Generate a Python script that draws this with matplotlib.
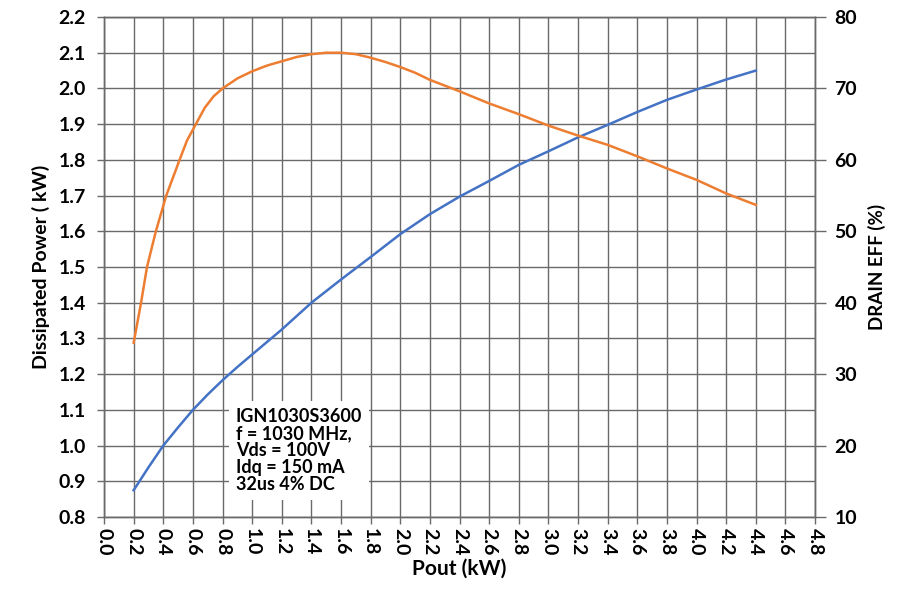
import numpy as np
import matplotlib
matplotlib.use('Agg')
import matplotlib.pyplot as plt
from matplotlib.ticker import MultipleLocator

plt.rcParams['font.family'] = ['Lato', 'DejaVu Sans']
plt.rcParams['font.weight'] = 'bold'

# dissipated power (kW) vs Pout (kW)
pout_pd = [0.2, 0.3, 0.4, 0.5, 0.6, 0.7, 0.8, 0.9, 1.0, 1.2, 1.4, 1.6, 1.8,
           2.0, 2.2, 2.4, 2.6, 2.8, 3.0, 3.2, 3.4, 3.6, 3.8, 4.0, 4.2, 4.4]
pdiss = [0.875, 0.939, 1.0, 1.051, 1.10, 1.143, 1.183, 1.22, 1.255, 1.325,
         1.40, 1.465, 1.528, 1.592, 1.648, 1.697, 1.741, 1.786, 1.824, 1.863,
         1.898, 1.934, 1.968, 1.997, 2.025, 2.05]

# drain efficiency (%) vs Pout (kW)
pout_eff = [0.2, 0.25, 0.29, 0.35, 0.42, 0.51, 0.56, 0.62, 0.68, 0.74, 0.8,
            0.9, 1.0, 1.1, 1.2, 1.3, 1.4, 1.5, 1.6, 1.7, 1.8, 1.9, 2.0, 2.1,
            2.2, 2.3, 2.4, 2.6, 2.8, 3.0, 3.2, 3.4, 3.6, 3.8, 4.0, 4.2, 4.4]
eff = [34.4, 40.0, 45.0, 50.0, 55.0, 60.0, 62.7, 65.0, 67.3, 68.9, 70.0,
       71.4, 72.4, 73.2, 73.8, 74.4, 74.8, 75.0, 75.0, 74.8, 74.3, 73.7,
       73.0, 72.2, 71.2, 70.4, 69.6, 67.9, 66.4, 64.8, 63.4, 62.1, 60.5,
       58.8, 57.2, 55.3, 53.7]

note = "IGN1030S3600\nf = 1030 MHz,\nVds = 100V\nIdq = 150 mA\n32us 4% DC"

fig = plt.figure(figsize=(9.07, 5.97), dpi=100)
ax1 = fig.add_axes([0.1147, 0.134, 0.7839, 0.8375])
ax2 = ax1.twinx()

grid_col = '#6a6a6a'
ax1.plot(pout_pd, pdiss, color='#4472C4', lw=1.8, zorder=3)
ax2.plot(pout_eff, eff, color='#ED7D31', lw=1.8, zorder=3)

ax1.set_xlim(0, 4.8)
ax1.set_ylim(0.8, 2.2)
ax2.set_ylim(10, 80)
ax2.yaxis.set_major_locator(MultipleLocator(10))
ax1.grid(True, color=grid_col, lw=1)
ax1.set_axisbelow(True)

xt = np.arange(0, 4.81, 0.2)
yt = np.arange(0.8, 2.21, 0.1)
ax1.set_xticks(xt)
ax1.set_xticklabels([f"{v:.1f}" for v in xt], rotation=-90)
ax1.set_yticks(yt)
ax1.set_yticklabels([f"{v:.1f}" for v in yt])

for ax in (ax1, ax2):
    for s in ax.spines.values():
        s.set_color(grid_col)
        s.set_linewidth(1)
    ax.tick_params(colors=grid_col, labelcolor='black', labelsize=14,
                   width=1, length=5)
ax1.tick_params(axis='y', pad=8)
ax1.tick_params(axis='x', pad=3)
ax2.tick_params(length=8, pad=6)

ax1.set_xlabel('Pout (kW)', fontsize=15, fontweight='bold', labelpad=2)
ax1.set_ylabel('Dissipated Power ( kW)', fontsize=14, fontweight='bold', labelpad=6)
ax2.set_ylabel('DRAIN EFF (%)', fontsize=13.5, fontweight='bold', labelpad=8)

ax1.text(0.89, 1.105, note, fontsize=13, fontweight='bold', va='top', ha='left',
         linespacing=1.0, zorder=4,
         bbox=dict(facecolor='white', edgecolor='none', pad=5))

fig.savefig('out.png', dpi=100)
